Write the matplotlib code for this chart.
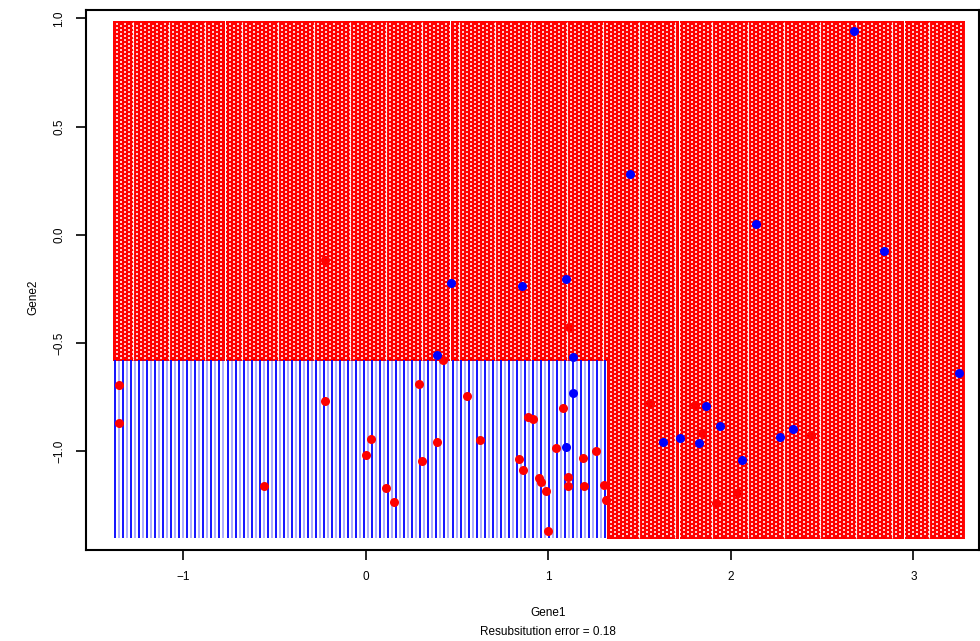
import numpy as np
import matplotlib
matplotlib.use("Agg")
import matplotlib.pyplot as plt

plt.rcParams['font.family'] = ['Liberation Sans', 'DejaVu Sans']

# Decision-tree split (classification regions)
split_gene1 = 1.326
split_gene2 = -0.577
grid_gene1_range = (-1.375, 3.27)
grid_gene2_range = (-1.395, 0.978)
grid_n = (212, 258)

# Observations, class "blue"
blue_gene1 = [2.674, 1.447, 2.137, 2.838, 0.466, 0.855, 1.096, 0.389, 1.134, 1.134,
              3.249, 1.096, 1.863, 1.940, 1.627, 1.721, 1.825, 2.060, 2.268, 2.340]
blue_gene2 = [0.942, 0.282, 0.051, -0.074, -0.222, -0.236, -0.203, -0.554, -0.564, -0.730,
              -0.637, -0.979, -0.790, -0.882, -0.956, -0.938, -0.961, -1.039, -0.933, -0.896]

# Observations, class "red"
red_gene1 = [-1.353, -1.353, -0.225, -0.225, -0.559, 0.290, 0.000, 0.027, 0.110, 0.153,
             0.307, 0.389, 0.422, 0.553, 0.625, 0.838, 0.860, 0.888, 0.915, 0.948,
             0.959, 0.986, 0.997, 1.041, 1.079, 1.107, 1.107, 1.112, 1.189, 1.195,
             1.260, 1.304, 1.315, 1.556, 1.803, 1.841, 2.038, 1.918, 2.438]
red_gene2 = [-0.693, -0.868, -0.115, -0.767, -1.159, -0.688, -1.016, -0.942, -1.169, -1.233,
             -1.044, -0.956, -0.577, -0.744, -0.947, -1.035, -1.085, -0.841, -0.850, -1.122,
             -1.141, -1.182, -1.367, -0.984, -0.799, -1.118, -1.159, -0.425, -1.030, -1.159,
             -0.998, -1.155, -1.224, -0.776, -0.785, -0.915, -1.192, -1.238, -0.924]

x_ticks = [-1, 0, 1, 2, 3]
y_ticks = [-1.0, -0.5, 0.0, 0.5, 1.0]

fig = plt.figure(figsize=(9.8, 6.41), dpi=100)
ax = fig.add_axes([86/980, 1-550/641, 893/980, 540/641])

gx = np.linspace(*grid_gene1_range, grid_n[0])
gy = np.linspace(*grid_gene2_range, grid_n[1])
GX, GY = np.meshgrid(gx, gy)
is_blue = (GX < split_gene1) & (GY < split_gene2)
col_idx, row_idx = np.meshgrid(np.arange(grid_n[0]), np.arange(grid_n[1]))
dx = gx[1] - gx[0]
dy = gy[1] - gy[0]

# red region
ax.scatter(GX[~is_blue], GY[~is_blue], s=6.0, marker='s', color='#ff0000',
           linewidths=0, zorder=1)
# fine white speckle texture of the red region
spk = (~is_blue) & ((row_idx + col_idx) % 2 == 0) & (col_idx < grid_n[0] - 1) & (row_idx < grid_n[1] - 1)
ax.scatter(GX[spk] + dx / 2, GY[spk] + dy / 2, s=0.8, marker='s', color='white',
           alpha=0.8, linewidths=0, zorder=1.5)
# thin white column gaps
gap = (~is_blue) & (col_idx % 9 == 4)
ax.scatter(GX[gap] + dx / 2, GY[gap], s=2.5, marker='|', color='white',
           alpha=0.9, linewidths=0.8, zorder=1.6)

# blue region: alternating strong/faint columns
strong = is_blue & (col_idx % 2 == 0)
faint = is_blue & (col_idx % 2 == 1)
ax.scatter(GX[strong], GY[strong], s=2.6, marker='|', color='#0000ff',
           linewidths=1.3, zorder=1)
ax.scatter(GX[faint], GY[faint], s=2.6, marker='|', color='#0000ff', alpha=0.35,
           linewidths=1.3, zorder=1)

ax.plot(red_gene1, red_gene2, 'o', color='#ff0000', ms=6.5, mec='none', zorder=3)
ax.plot(blue_gene1, blue_gene2, 'o', color='#0000ff', ms=6.5, mec='none', zorder=3)

ax.set_xlim(-1.534, 3.359)
ax.set_ylim(-1.455, 1.039)
ax.set_xticks(x_ticks)
ax.set_xticklabels(['\u22121', '0', '1', '2', '3'])
ax.set_yticks(y_ticks)
ax.set_yticklabels(['\u22121.0', '\u22120.5', '0.0', '0.5', '1.0'], rotation=90, va='center')
ax.tick_params(direction='out', length=7, width=1.2, labelsize=8.5, pad=8)
for sp in ax.spines.values():
    sp.set_linewidth(1.5)

fig.text(548/980, 1-613/641, 'Gene1', ha='center', va='center', fontsize=8.5)
fig.text(548/980, 1-632/641, 'Resubsitution error = 0.18', ha='center', va='center', fontsize=8.5)
fig.text(33/980, 1-297/641, 'Gene2', ha='center', va='center', fontsize=8.5, rotation=90)

fig.savefig('out.png', dpi=100)
